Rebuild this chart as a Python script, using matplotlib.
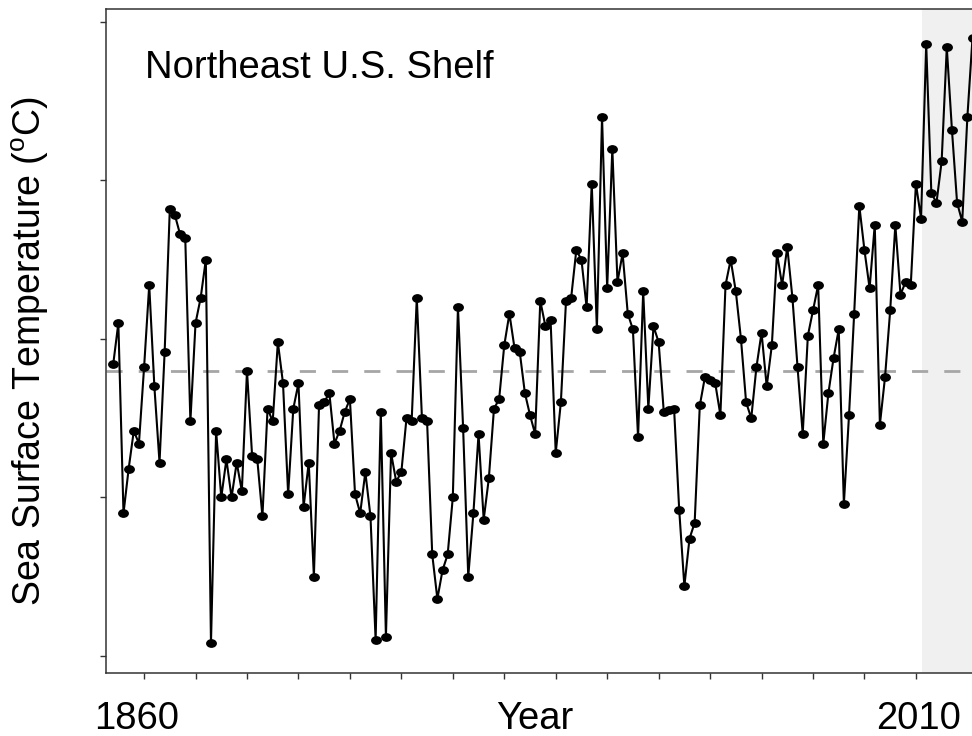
import matplotlib
matplotlib.use("Agg")
import matplotlib.pyplot as plt
from matplotlib.path import Path

plt.rcParams["font.family"] = ["Liberation Sans", "DejaVu Sans"]
plt.rcParams["mathtext.fontset"] = "custom"
plt.rcParams["mathtext.rm"] = "Liberation Sans"

# annual mean sea surface temperature, 1854-2021
years = list(range(1854, 2022))
sst = [
    10.92, 11.05, 10.45, 10.59, 10.71, 10.67, 10.91, 11.17, 10.85, 10.61,  # 1854-1863
    10.96, 11.41, 11.39, 11.33, 11.32, 10.74, 11.05, 11.13, 11.25, 10.04,  # 1864-1873
    10.71, 10.50, 10.62, 10.50, 10.61, 10.52, 10.90, 10.63, 10.62, 10.44,  # 1874-1883
    10.78, 10.74, 10.99, 10.86, 10.51, 10.78, 10.86, 10.47, 10.61, 10.25,  # 1884-1893
    10.79, 10.80, 10.83, 10.67, 10.71, 10.77, 10.81, 10.51, 10.45, 10.58,  # 1894-1903
    10.44, 10.05, 10.77, 10.06, 10.64, 10.55, 10.58, 10.75, 10.74, 11.13,  # 1904-1913
    10.75, 10.74, 10.32, 10.18, 10.27, 10.32, 10.50, 11.10, 10.72, 10.25,  # 1914-1923
    10.45, 10.70, 10.43, 10.56, 10.78, 10.81, 10.98, 11.08, 10.97, 10.96,  # 1924-1933
    10.83, 10.76, 10.70, 11.12, 11.04, 11.06, 10.64, 10.80, 11.12, 11.13,  # 1934-1943
    11.28, 11.25, 11.10, 11.49, 11.03, 11.70, 11.16, 11.60, 11.18, 11.27,  # 1944-1953
    11.08, 11.03, 10.69, 11.15, 10.78, 11.04, 10.99, 10.77, 10.775, 10.78,  # 1954-1963
    10.46, 10.22, 10.37, 10.42, 10.79, 10.88, 10.87, 10.86, 10.76, 11.17,  # 1964-1973
    11.25, 11.15, 11.00, 10.80, 10.75, 10.91, 11.02, 10.85, 10.98, 11.27,  # 1974-1983
    11.17, 11.29, 11.13, 10.91, 10.70, 11.01, 11.09, 11.17, 10.67, 10.83,  # 1984-1993
    10.94, 11.03, 10.48, 10.76, 11.08, 11.42, 11.28, 11.16, 11.36, 10.73,  # 1994-2003
    10.88, 11.09, 11.36, 11.14, 11.18, 11.17, 11.49, 11.38, 11.93, 11.46,  # 2004-2013
    11.43, 11.56, 11.92, 11.66, 11.43, 11.37, 11.70, 11.95,               # 2014-2021
]
long_term_mean = 10.90
recent_start = 2011.2

x_ticks = list(range(1860, 2011, 10))
y_ticks = [10.0, 10.5, 11.0, 11.5, 12.0]

# slightly flattened dot, like the original markers
circle = Path.unit_circle()
dot = Path(circle.vertices * [1.0, 0.78], circle.codes)

fig = plt.figure(figsize=(9.72, 7.36), dpi=100)
ax = fig.add_axes([106 / 972, 63 / 736, 866 / 972, 664 / 736])

ax.axvspan(recent_start, 2030, color="#f0f0f0", zorder=0, lw=0)
ax.axhline(long_term_mean, color="#a6a6a6", lw=2.0, ls=(0, (5.8, 5.8)), zorder=1)
ax.plot(years, sst, color="black", lw=1.5, marker=dot, markersize=6.8,
        markerfacecolor="black", markeredgecolor="black", zorder=3)

ax.set_xlim(1852.6, 2020.9)
ax.set_ylim(9.946, 12.041)

ax.set_xticks(x_ticks)
ax.set_xticklabels([])
ax.set_yticks(y_ticks)
ax.set_yticklabels([])
ax.tick_params(axis="both", direction="out", length=4.5, width=1, color="#333333")

for side in ["left", "bottom", "top"]:
    ax.spines[side].set_color("#333333")
    ax.spines[side].set_linewidth(1.1)
ax.spines["right"].set_visible(False)

label_size = 27.5
fig.text(137 / 972, 1 - 729 / 736, "1860", fontsize=label_size, ha="center", va="baseline")
fig.text(535 / 972, 1 - 729 / 736, "Year", fontsize=label_size, ha="center", va="baseline")
fig.text(919 / 972, 1 - 729 / 736, "2010", fontsize=label_size, ha="center", va="baseline")
fig.text(30 / 972, 1 - 351 / 736, r"Sea Surface Temperature ($^{\rm o}$C)",
         rotation=90, fontsize=27, ha="center", va="center")
fig.text(145 / 972, 1 - 68 / 736, "Northeast U.S. Shelf", fontsize=label_size,
         ha="left", va="center")

fig.savefig("out.png", dpi=100)
